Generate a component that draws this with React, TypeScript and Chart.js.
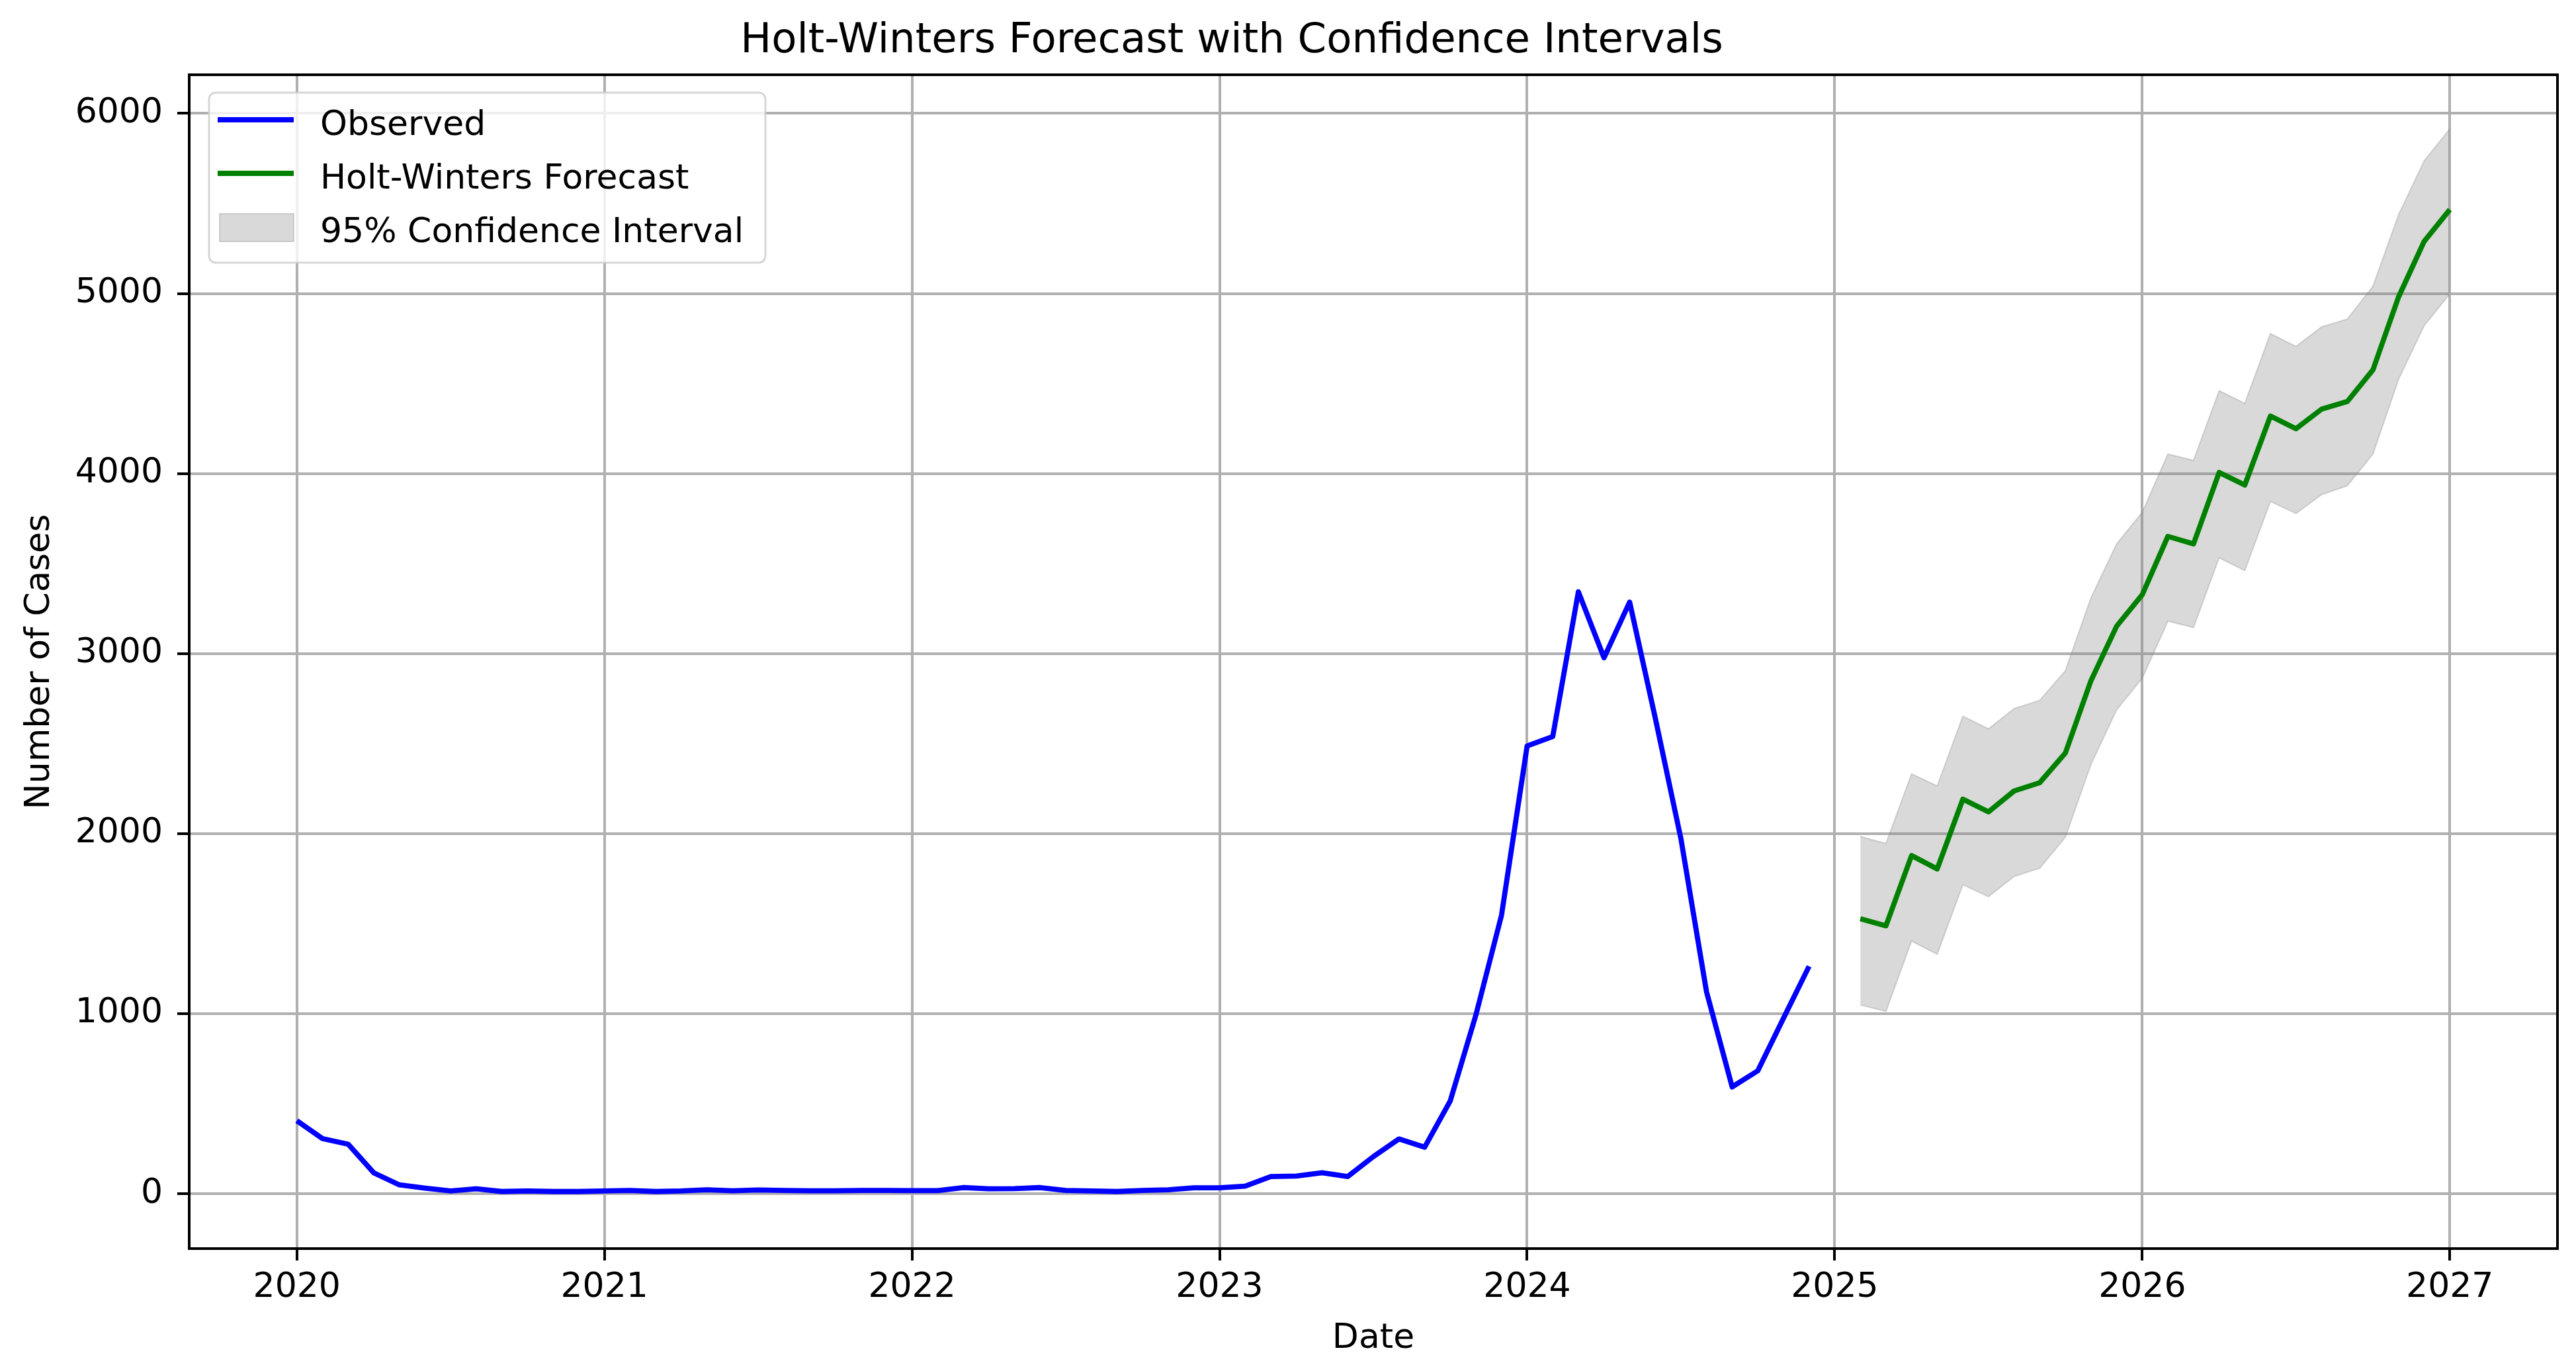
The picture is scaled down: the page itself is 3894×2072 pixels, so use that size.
import { useEffect, useRef } from "react";
import { Chart, registerables } from "chart.js";

Chart.register(...registerables);

const chartTitle = "Holt-Winters Forecast with Confidence Intervals";
const xAxisTitle = "Date";
const yAxisTitle = "Number of Cases";

const observedDates = [
  "2020-01", "2020-02", "2020-03", "2020-04", "2020-05", "2020-06", "2020-07", "2020-08", "2020-09", "2020-10", "2020-11", "2020-12",
  "2021-01", "2021-02", "2021-03", "2021-04", "2021-05", "2021-06", "2021-07", "2021-08", "2021-09", "2021-10", "2021-11", "2021-12",
  "2022-01", "2022-02", "2022-03", "2022-04", "2022-05", "2022-06", "2022-07", "2022-08", "2022-09", "2022-10", "2022-11", "2022-12",
  "2023-01", "2023-02", "2023-03", "2023-04", "2023-05", "2023-06", "2023-07", "2023-08", "2023-09", "2023-10", "2023-11", "2023-12",
  "2024-01", "2024-02", "2024-03", "2024-04", "2024-05", "2024-06", "2024-07", "2024-08", "2024-09", "2024-10", "2024-11", "2024-12",
];

const observedValues = [
  405, 306, 275, 116, 49, 31, 15, 27, 12, 15, 12, 12,
  15, 18, 12, 15, 22, 16, 21, 18, 16, 16, 18, 18,
  17, 17, 34, 27, 28, 34, 18, 15, 12, 18, 22, 33,
  33, 42, 95, 98, 116, 95, 206, 304, 258, 515, 992, 1546,
  2487, 2539, 3343, 2977, 3286, 2642, 1972, 1121, 593, 683, 974, 1263,
];

const forecastDates = [
  "2025-02", "2025-03", "2025-04", "2025-05", "2025-06", "2025-07", "2025-08", "2025-09", "2025-10", "2025-11", "2025-12", "2026-01",
  "2026-02", "2026-03", "2026-04", "2026-05", "2026-06", "2026-07", "2026-08", "2026-09", "2026-10", "2026-11", "2026-12", "2027-01",
];

const forecastValues = [
  1527, 1488, 1878, 1804, 2191, 2121, 2237, 2283, 2448, 2850, 3152, 3327,
  3651, 3609, 4006, 3936, 4319, 4249, 4358, 4400, 4576, 4981, 5290, 5466,
];

const upperValues = [
  1984, 1945, 2332, 2265, 2652, 2582, 2694, 2740, 2905, 3310, 3609, 3785,
  4108, 4073, 4460, 4390, 4777, 4706, 4815, 4858, 5040, 5438, 5737, 5915,
];

const lowerValues = [
  1048, 1013, 1403, 1330, 1716, 1650, 1762, 1808, 1980, 2385, 2687, 2863,
  3180, 3145, 3532, 3461, 3845, 3778, 3883, 3932, 4108, 4523, 4822, 4998,
];

const xTickYears = [2020, 2021, 2022, 2023, 2024, 2025, 2026, 2027];
const yTickValues = [0, 1000, 2000, 3000, 4000, 5000, 6000];

const legendLabels = ["Observed", "Holt-Winters Forecast", "95% Confidence Interval"];

const FONT = '"DejaVu Sans"';
const BLUE = "#0000ff";
const GREEN = "#008000";
const BAND = "rgba(128,128,128,0.3)";

function toYear(d: string): number {
  const [y, m] = d.split("-").map(Number);
  return y + (m - 1) / 12;
}

const overlayPlugin = {
  id: "overlay",
  afterDraw(chart: any) {
    const ctx: CanvasRenderingContext2D = chart.ctx;
    const a = chart.chartArea;
    ctx.save();
    // axes frame (spines)
    ctx.strokeStyle = "#000";
    ctx.lineWidth = 4;
    ctx.strokeRect(a.left, a.top, a.right - a.left, a.bottom - a.top);

    // title
    ctx.fillStyle = "#000";
    ctx.font = `62.5px ${FONT}`;
    ctx.textAlign = "center";
    ctx.textBaseline = "alphabetic";
    ctx.fillText(chartTitle, 1862, 79);

    // legend
    const bx = a.left + 30;
    const by = a.top + 27;
    const bw = 841;
    const bh = 257;
    ctx.beginPath();
    ctx.roundRect(bx, by, bw, bh, 10);
    ctx.fillStyle = "rgba(255,255,255,0.8)";
    ctx.fill();
    ctx.lineWidth = 3;
    ctx.strokeStyle = "rgba(204,204,204,0.8)";
    ctx.stroke();

    const hx0 = bx + 13;
    const hx1 = bx + 128;
    const textX = bx + 168;
    const baselines = [by + 64, by + 145, by + 226];
    const ds = chart.data.datasets;
    // Observed
    ctx.lineCap = "butt";
    ctx.lineWidth = 7.8;
    ctx.strokeStyle = ds[0].borderColor;
    ctx.beginPath();
    ctx.moveTo(hx0, baselines[0] - 23);
    ctx.lineTo(hx1, baselines[0] - 23);
    ctx.stroke();
    // Forecast
    ctx.strokeStyle = ds[3].borderColor;
    ctx.beginPath();
    ctx.moveTo(hx0, baselines[1] - 23);
    ctx.lineTo(hx1, baselines[1] - 23);
    ctx.stroke();
    // CI patch
    ctx.fillStyle = ds[1].backgroundColor;
    ctx.fillRect(hx0 + 3, baselines[2] - 43, hx1 - hx0 - 3, 42);
    ctx.lineWidth = 2;
    ctx.strokeStyle = ds[1].borderColor;
    ctx.strokeRect(hx0 + 3, baselines[2] - 43, hx1 - hx0 - 3, 42);

    ctx.fillStyle = "#000";
    ctx.font = `52px ${FONT}`;
    ctx.textAlign = "left";
    ctx.textBaseline = "alphabetic";
    legendLabels.forEach((t, i) => ctx.fillText(t, textX, baselines[i]));
    ctx.restore();
  },
};

export default function App() {
  const ref = useRef<HTMLCanvasElement>(null);
  useEffect(() => {
    document.body.style.margin = "0";
    document.body.style.overflow = "hidden";
    const tickFont = { family: FONT, size: 52 };
    const chart = new Chart(ref.current!, {
      type: "line",
      data: {
        datasets: [
          {
            label: legendLabels[0],
            data: observedDates.map((d, i) => ({ x: toYear(d), y: observedValues[i] })),
            borderColor: BLUE,
            backgroundColor: BLUE,
            borderWidth: 7.8,
            pointRadius: 0,
            fill: false,
            tension: 0,
            borderJoinStyle: "round",
            order: 1,
          },
          {
            label: "upper",
            data: forecastDates.map((d, i) => ({ x: toYear(d), y: upperValues[i] })),
            borderColor: BAND,
            backgroundColor: BAND,
            borderWidth: 2,
            pointRadius: 0,
            fill: "+1",
            tension: 0,
            order: 3,
          },
          {
            label: legendLabels[2],
            data: forecastDates.map((d, i) => ({ x: toYear(d), y: lowerValues[i] })),
            borderColor: BAND,
            backgroundColor: BAND,
            borderWidth: 2,
            pointRadius: 0,
            fill: false,
            tension: 0,
            order: 3,
          },
          {
            label: legendLabels[1],
            data: forecastDates.map((d, i) => ({ x: toYear(d), y: forecastValues[i] })),
            borderColor: GREEN,
            backgroundColor: GREEN,
            borderWidth: 7.8,
            pointRadius: 0,
            fill: false,
            tension: 0,
            borderJoinStyle: "round",
            order: 1,
          },
        ],
      },
      options: {
        responsive: false,
        animation: false,
        devicePixelRatio: 1,
        layout: { padding: { top: 113, right: 28, left: 0, bottom: 0 }, autoPadding: false },
        plugins: {
          legend: { display: false },
          title: { display: false },
          tooltip: { enabled: false },
        },
        scales: {
          x: {
            type: "linear",
            min: 2019.65,
            max: 2027.35,
            afterBuildTicks: (s: any) => {
              s.ticks = xTickYears.map((v) => ({ value: v }));
            },
            afterFit: (s: any) => {
              s.height = 185;
            },
            ticks: {
              callback: (v: any) => String(v),
              font: tickFont,
              color: "#000",
              padding: 10,
              maxRotation: 0,
              autoSkip: false,
            },
            grid: {
              color: "#b0b0b0",
              lineWidth: 4,
              tickColor: "#000",
              tickWidth: 4,
              tickLength: 18,
            },
            border: { display: false },
            title: {
              display: true,
              text: xAxisTitle,
              font: tickFont,
              color: "#000",
              padding: { top: 0, bottom: 17 },
            },
          },
          y: {
            type: "linear",
            min: -305,
            max: 6215,
            afterBuildTicks: (s: any) => {
              s.ticks = yTickValues.map((v) => ({ value: v }));
            },
            afterFit: (s: any) => {
              s.width = 286;
            },
            ticks: {
              callback: (v: any) => String(v),
              font: tickFont,
              color: "#000",
              padding: 22,
              autoSkip: false,
            },
            grid: {
              color: "#b0b0b0",
              lineWidth: 4,
              tickColor: "#000",
              tickWidth: 4,
              tickLength: 18,
            },
            border: { display: false },
            title: {
              display: true,
              text: yAxisTitle,
              font: tickFont,
              color: "#000",
              padding: { top: 29, bottom: 0 },
            },
          },
        },
      },
      plugins: [overlayPlugin],
    } as any);
    return () => chart.destroy();
  }, []);
  return (
    <div style={{ width: 3894, height: 2072, background: "#fff" }}>
      <canvas ref={ref} width={3894} height={2072} style={{ display: "block" }} />
    </div>
  );
}
